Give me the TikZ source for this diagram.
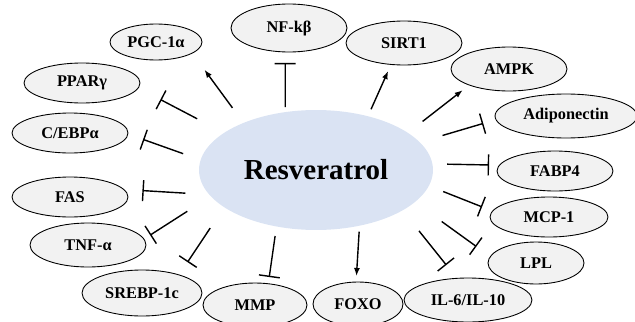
\documentclass[tikz,border=0pt]{standalone}
\usepackage{fontspec}
\setmainfont{Liberation Serif}
\usetikzlibrary{shapes.geometric, arrows.meta}
\definecolor{hubBlue}{RGB}{218, 227, 243}
\definecolor{factorGray}{RGB}{242, 242, 242}

\begin{document}
\begin{tikzpicture}[
    x=0.02cm, y=-0.02cm,
    factor/.style={ellipse, draw=black, line width=0.5pt, fill=factorGray, inner sep=0pt, outer sep=0pt, font=\fontsize{9.3}{11}\selectfont\bfseries},
    hub/.style={ellipse, fill=hubBlue, inner sep=0pt, outer sep=0pt, minimum width=4.68cm, minimum height=2.4cm, font=\fontsize{16.5}{19}\selectfont\bfseries},
    act/.style={-{Latex[length=1.6mm, width=1.2mm]}, line width=0.8pt},
    inh/.style={-{Bar[width=4.2mm, line width=0.8pt]}, line width=0.8pt}
]
    \useasboundingbox (0,0) rectangle (635,321);

    % Centre: Resveratrol
    \node[hub] (res) at (316,170) {Resveratrol};

    % Upper arc, left to right
    \node[factor, minimum width=2.32cm, minimum height=0.8cm] (ppar) at (82,83) {PPARγ};
    \node[factor, minimum width=1.84cm, minimum height=0.72cm] (pgc) at (156,42) {PGC-1α};
    \node[factor, minimum width=2.32cm, minimum height=0.96cm] (nfk) at (289,28) {NF-kβ};
    \node[factor, minimum width=2.32cm, minimum height=0.88cm] (sirt) at (404,43) {SIRT1};
    \node[factor, minimum width=2.32cm, minimum height=0.88cm] (ampk) at (509,69) {AMPK};
    \node[factor, minimum width=2.84cm, minimum height=0.88cm] (adipo) at (566,116) {Adiponectin};

    % Left side, top to bottom
    \node[factor, minimum width=2.32cm, minimum height=0.8cm] (cebp) at (70,133) {C/EBPα};
    \node[factor, minimum width=2.32cm, minimum height=0.8cm] (fas) at (70,197) {FAS};
    \node[factor, minimum width=2.32cm, minimum height=0.88cm] (tnf) at (88,245) {TNF-α};

    % Right side, top to bottom
    \node[factor, minimum width=2.32cm, minimum height=0.8cm] (fabp) at (555,171) {FABP4};
    \node[factor, minimum width=2.36cm, minimum height=0.8cm] (mcp) at (549,217) {MCP-1};
    \node[factor, minimum width=1.92cm, minimum height=0.84cm] (lpl) at (536,263) {LPL};

    % Lower arc, left to right
    \node[factor, minimum width=2.4cm, minimum height=0.92cm] (srebp) at (142,293) {SREBP-1c};
    \node[factor, minimum width=2.08cm, minimum height=0.88cm] (mmp) at (255,305) {MMP};
    \node[factor, minimum width=1.8cm, minimum height=0.88cm] (foxo) at (358,304) {FOXO};
    \node[factor, minimum width=2.56cm, minimum height=0.88cm] (il) at (468,300) {IL-6/IL-10};

    % Activation
    \draw[act, shorten <=0.374cm, shorten >=0.414cm] (res.147.3) -- (pgc.-17.6);
    \draw[act, shorten <=0.153cm, shorten >=0.145cm] (res.46.9) -- (sirt.-121.0);
    \draw[act, shorten <=0.373cm, shorten >=0.169cm] (res.22.4) -- (ampk.-158.6);
    \draw[act, shorten <=0.121cm, shorten >=0.121cm] (res.-52.9) -- (foxo.95.9);

    % Inhibition
    \draw[inh, shorten <=0.102cm, shorten >=0.221cm] (res.118.2) -- (nfk.-99.5);
    \draw[inh, shorten <=0.608cm, shorten >=0.501cm] (res.158.0) -- (ppar.-5.7);
    \draw[inh, shorten <=0.373cm, shorten >=0.322cm] (res.175.2) -- (cebp.-1.7);
    \draw[inh, shorten <=0.482cm, shorten >=0.375cm] (res.-167.9) -- (fas.8.4);
    \draw[inh, shorten <=0.558cm, shorten >=0.148cm] (res.-166.3) -- (tnf.6.1);
    \draw[inh, shorten <=0.504cm, shorten >=0.307cm] (res.-158.0) -- (srebp.26.7);
    \draw[inh, shorten <=0.193cm, shorten >=0.135cm] (res.-125.0) -- (mmp.58.6);
    \draw[inh, shorten <=0.527cm, shorten >=0.341cm] (res.-25.0) -- (il.117.8);
    \draw[inh, shorten <=0.663cm, shorten >=0.344cm] (res.-18.5) -- (lpl.172.6);
    \draw[inh, shorten <=0.310cm, shorten >=0.228cm] (res.-8.3) -- (mcp.174.0);
    \draw[inh, shorten <=0.293cm, shorten >=0.209cm] (res.3.1) -- (fabp.174.1);
    \draw[inh, shorten <=0.476cm, shorten >=0.266cm] (res.15.4) -- (adipo.-177.3);
\end{tikzpicture}
\end{document}
